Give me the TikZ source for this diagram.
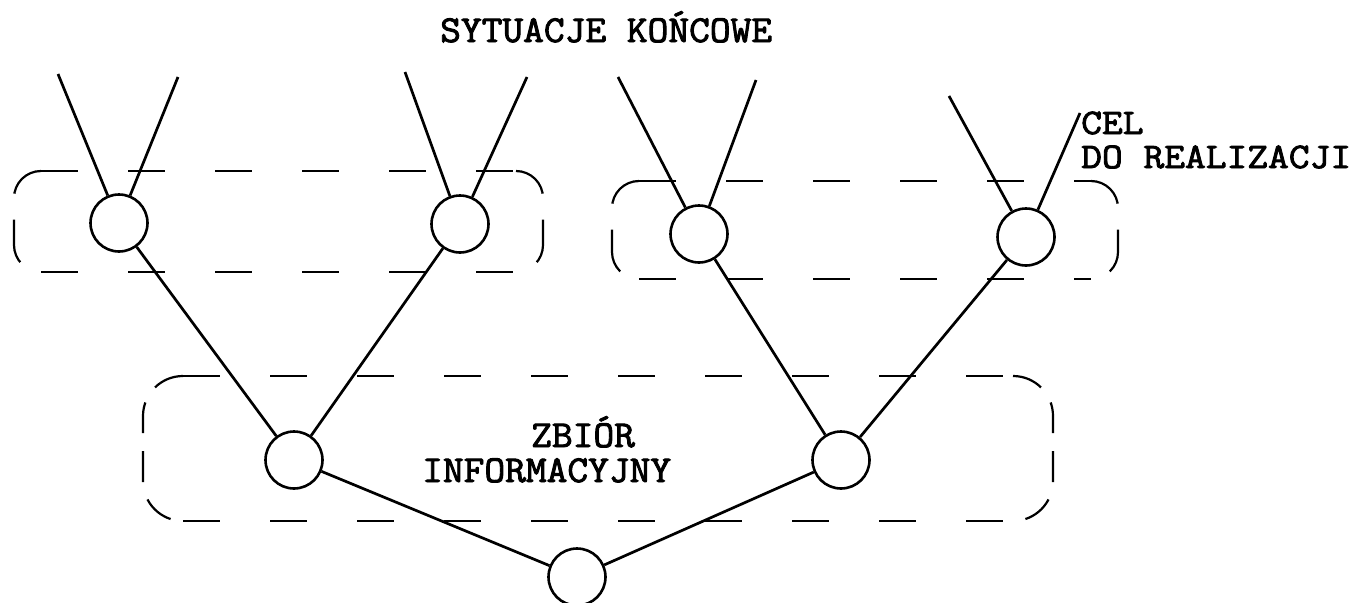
\documentclass[tikz,border=0pt]{standalone}
\usepackage{fontspec}
\newfontfamily\tw[FakeStretch=1.06,FakeBold=2.5]{Latin Modern Mono}
\newfontfamily\twb[FakeStretch=1.12,FakeBold=2.5]{Latin Modern Mono}
\begin{document}
\begin{tikzpicture}[x=1pt,y=-1pt,
  nd/.style={circle,draw,line width=2.6pt,minimum size=57pt,inner sep=0pt},
  edge/.style={line width=2.7pt},
  hdash/.style={line width=2pt,dash pattern=on 37pt off 50pt},
  capA/.style={line width=2.2pt,rounded corners=27pt,dash pattern=on 38pt off 26pt on 44pt off 40pt},
  capB/.style={line width=2.2pt,rounded corners=40pt,dash pattern=on 31pt off 18pt},
  lbl/.style={inner sep=0pt,anchor=base west,text height=24pt,text depth=1pt,
    font=\tw\fontsize{38}{40}\selectfont},
  lbl2/.style={inner sep=0pt,anchor=base west,align=left,
    font=\twb\fontsize{36}{34}\selectfont}
]
\useasboundingbox (0,0) rectangle (1367,602);
\clip (0,0) rectangle (1367,602);
\fill[white] (0,0) rectangle (1367,602);

% nodes
\node[nd] (c1) at (119,223) {};
\node[nd] (c2) at (460,224) {};
\node[nd] (c3) at (699,234) {};
\node[nd] (c4) at (1026,237) {};
\node[nd] (c5) at (294,460) {};
\node[nd] (c6) at (841,460) {};
\node[nd] (c7) at (577,577) {};

% free ends of the top branches
\coordinate (t1a) at (58,74);
\coordinate (t1b) at (178,77);
\coordinate (t2a) at (405,72);
\coordinate (t2b) at (527,77);
\coordinate (t3a) at (618,77);
\coordinate (t3b) at (756,80);
\coordinate (t4a) at (949,96);
\coordinate (t4b) at (1080,113);

% connectors
\draw[edge] (t1a) -- (c1);
\draw[edge] (t1b) -- (c1);
\draw[edge] (t2a) -- (c2);
\draw[edge] (t2b) -- (c2);
\draw[edge] (t3a) -- (c3);
\draw[edge] (t3b) -- (c3);
\draw[edge] (t4a) -- (c4);
\draw[edge] (t4b) -- (c4);
\draw[edge] (c1) -- (c5);
\draw[edge] (c2) -- (c5);
\draw[edge] (c3) -- (c6);
\draw[edge] (c4) -- (c6);
\draw[edge] (c5) -- (c7);
\draw[edge] (c6) -- (c7);

% dashed box 1
\draw[hdash] (41,171) -- (516,171);
\draw[hdash] (41,272) -- (516,272);
\draw[capA] (41,171) -- (14,171) -- (14,272) -- (41,272);
\draw[capA] (516,171) -- (543,171) -- (543,272) -- (516,272);
% dashed box 2
\draw[hdash] (639,181) -- (1091,181);
\draw[hdash] (639,279) -- (1091,279);
\draw[capA] (639,181) -- (612,181) -- (612,279) -- (639,279);
\draw[capA] (1091,181) -- (1118,181) -- (1118,279) -- (1091,279);
% dashed box 3
\draw[hdash] (183,376) -- (1013,376);
\draw[hdash] (183,521) -- (1013,521);
\draw[capB] (183,376) -- (143,376) -- (143,521) -- (183,521);
\draw[capB] (1013,376) -- (1053,376) -- (1053,521) -- (1013,521);

% texts
\node[lbl] (title) at (440,42) {SYTUACJE KOŃCOWE};
\node[lbl2] (cel) at (1081,168) {CEL\\DO REALIZACJI};
\node[lbl] (zb) at (531,447) {ZBIÓR};
\node[lbl] (inf) at (422,482) {INFORMACYJNY};
\end{tikzpicture}
\end{document}
